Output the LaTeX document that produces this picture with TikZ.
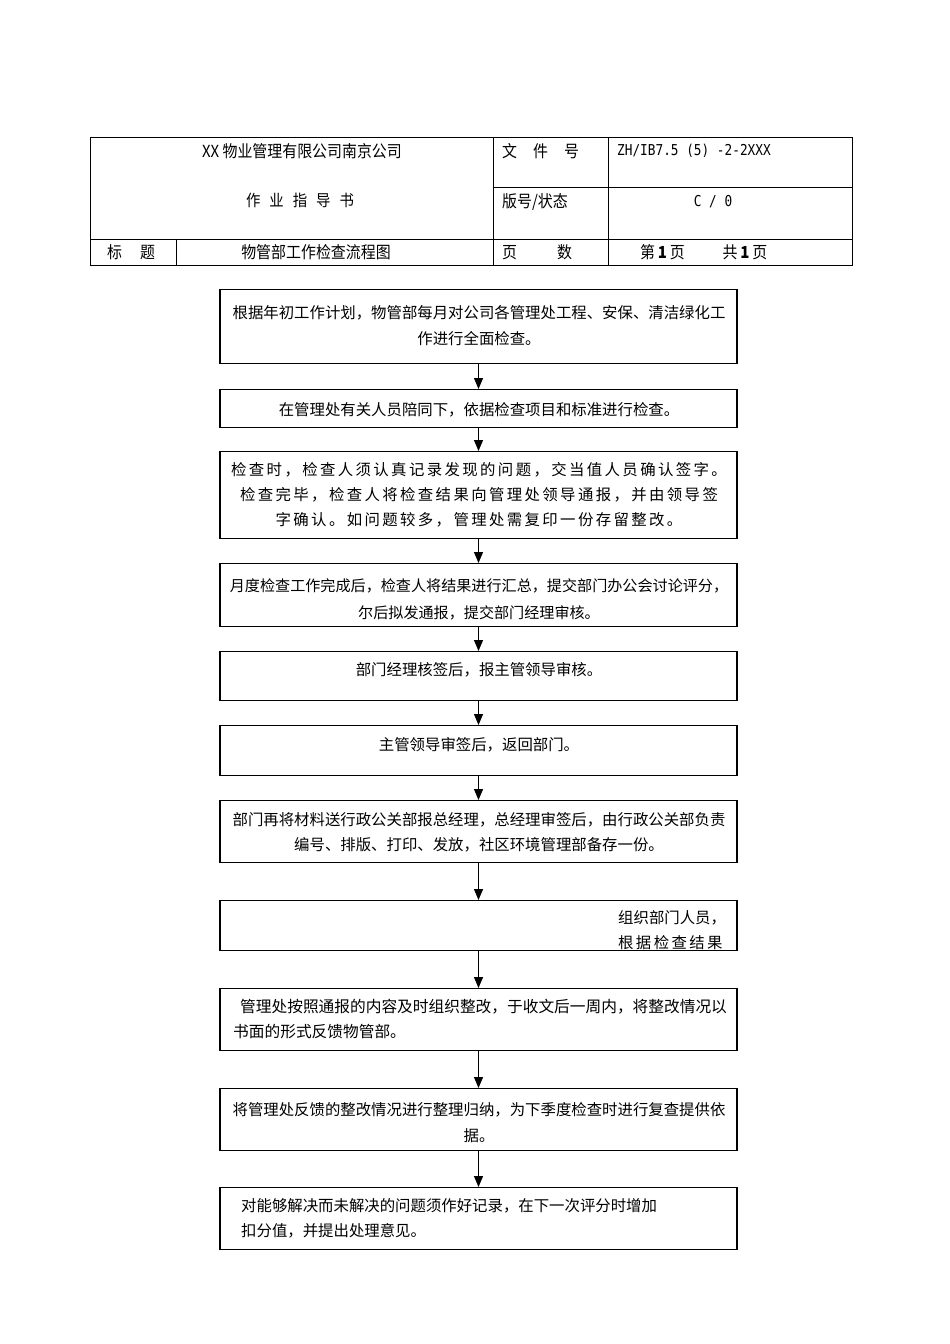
\documentclass[tikz,border=0pt]{standalone}
\usepackage{fontspec}
\setmainfont{Liberation Serif}
\newfontfamily\cjk{Noto Sans CJK SC}
\newfontfamily\cjkw[LetterSpace=15.5]{Noto Sans CJK SC}
\newfontfamily\hdr[FakeStretch=0.9]{Noto Sans CJK SC}
\newfontfamily\hdrm[FakeStretch=0.85]{DejaVu Sans Mono}
\usetikzlibrary{arrows.meta}
\begin{document}
\begin{tikzpicture}[x=1pt,y=-1pt,
  box/.style={draw, line width=1.2pt, minimum width=517pt, inner sep=0pt, anchor=north},
  txt/.style={inner sep=0pt, font=\cjk\fontsize{15.4}{26}\selectfont, align=center},
  arr/.style={-{Triangle[length=11pt,width=9pt]}, line width=1.2pt},
  hd/.style={inner sep=0pt, font=\hdr\fontsize{16.6}{18}\selectfont, anchor=west},
  hdc/.style={inner sep=0pt, font=\hdr\fontsize{16.6}{18}\selectfont}]
\fill[white] (0,0) rectangle (950,1344);
\useasboundingbox (0,0) rectangle (950,1344);
% header table
\draw[line width=1pt] (90,137) rectangle (852,265);
\draw[line width=1pt] (493,137) -- (493,265);
\draw[line width=1pt] (608,137) -- (608,265);
\draw[line width=1pt] (493,187) -- (852,187);
\draw[line width=1pt] (90,239) -- (852,239);
\draw[line width=1pt] (176,239) -- (176,265);
\node[hdc] (h1) at (302,151) {XX 物业管理有限公司南京公司};
\node[hdc, font=\hdr\fontsize{16}{18}\selectfont] (h2) at (300,200) {作\hspace{9pt}业\hspace{9pt}指\hspace{9pt}导\hspace{9pt}书};
\node[hd] (h3) at (502,151) {文\hspace{16pt}件\hspace{16pt}号};
\node[hd, font=\hdrm\fontsize{15}{18}\selectfont] (h4) at (617,151) {ZH/IB7.5 (5) -2-2XXX};
\node[hd] (h5) at (502,202) {版号/状态};
\node[hdc, font=\hdrm\fontsize{15}{18}\selectfont] (h6) at (713,202) {C / 0};
\node[hd] (h7) at (107,252) {标\hspace{18pt}题};
\node[hdc] (h8) at (316,252) {物管部工作检查流程图};
\node[hd] (h9) at (502,252) {页\hspace{40pt}数};
\node[hd] (h10) at (640,252) {第\,{\bfseries 1}\,页\hspace{38pt}共\,{\bfseries 1}\,页};
% flow boxes
\node[box, minimum height=74pt] (b1) at (478.5,289) {};
\node[box, minimum height=38pt] (b2) at (478.5,389) {};
\node[box, minimum height=87pt] (b3) at (478.5,451) {};
\node[box, minimum height=63pt] (b4) at (478.5,563) {};
\node[box, minimum height=49pt] (b5) at (478.5,651) {};
\node[box, minimum height=50pt] (b6) at (478.5,725) {};
\node[box, minimum height=62pt] (b7) at (478.5,800) {};
\node[box, minimum height=50pt] (b8) at (478.5,900) {};
\node[box, minimum height=62pt] (b9) at (478.5,988) {};
\node[box, minimum height=62pt] (b10) at (478.5,1088) {};
\node[box, minimum height=62pt] (b11) at (478.5,1187) {};
% texts
\node[txt] (t1) at (479,326) {根据年初工作计划，物管部每月对公司各管理处工程、安保、清洁绿化工\\作进行全面检查。};
\node[txt] (t2) at (479,410) {在管理处有关人员陪同下，依据检查项目和标准进行检查。};
\node[txt, font=\cjkw\fontsize{15.4}{25}\selectfont] (t3) at (479,495) {检查时，检查人须认真记录发现的问题，交当值人员确认签字。\\检查完毕，检查人将检查结果向管理处领导通报，并由领导签\\字确认。如问题较多，管理处需复印一份存留整改。};
\node[txt, font=\cjk\fontsize{15.1}{27}\selectfont] (t4) at (479,599.5) {月度检查工作完成后，检查人将结果进行汇总，提交部门办公会讨论评分，\\尔后拟发通报，提交部门经理审核。};
\node[txt] (t5) at (479,670) {部门经理核签后，报主管领导审核。};
\node[txt] (t6) at (479,745) {主管领导审签后，返回部门。};
\node[txt, font=\cjk\fontsize{15.4}{25}\selectfont] (t7) at (479,832) {部门再将材料送行政公关部报总经理，总经理审签后，由行政公关部负责\\编号、排版、打印、发放，社区环境管理部备存一份。};
\node[txt, align=left, anchor=west, font=\cjk\fontsize{15.4}{25}\selectfont] (t8) at (618,930.5) {组织部门人员，\\{\cjkw 根据检查结果}};
\node[txt, align=left, anchor=west, font=\cjk\fontsize{15.7}{25}\selectfont] (t9) at (233,1019.5) {\hspace{7pt}管理处按照通报的内容及时组织整改，于收文后一周内，将整改情况以\\书面的形式反馈物管部。};
\node[txt] (t10) at (479,1123) {将管理处反馈的整改情况进行整理归纳，为下季度检查时进行复查提供依\\据。};
\node[txt, align=left, anchor=west, font=\cjk\fontsize{15.4}{25}\selectfont] (t11) at (241,1218.5) {对能够解决而未解决的问题须作好记录，在下一次评分时增加\\扣分值，并提出处理意见。};
% arrows
\draw[arr] (b1) -- (b2);
\draw[arr] (b2) -- (b3);
\draw[arr] (b3) -- (b4);
\draw[arr] (b4) -- (b5);
\draw[arr] (b5) -- (b6);
\draw[arr] (b6) -- (b7);
\draw[arr] (b7) -- (b8);
\draw[arr] (b8) -- (b9);
\draw[arr] (b9) -- (b10);
\draw[arr] (b10) -- (b11);
\end{tikzpicture}
\end{document}
